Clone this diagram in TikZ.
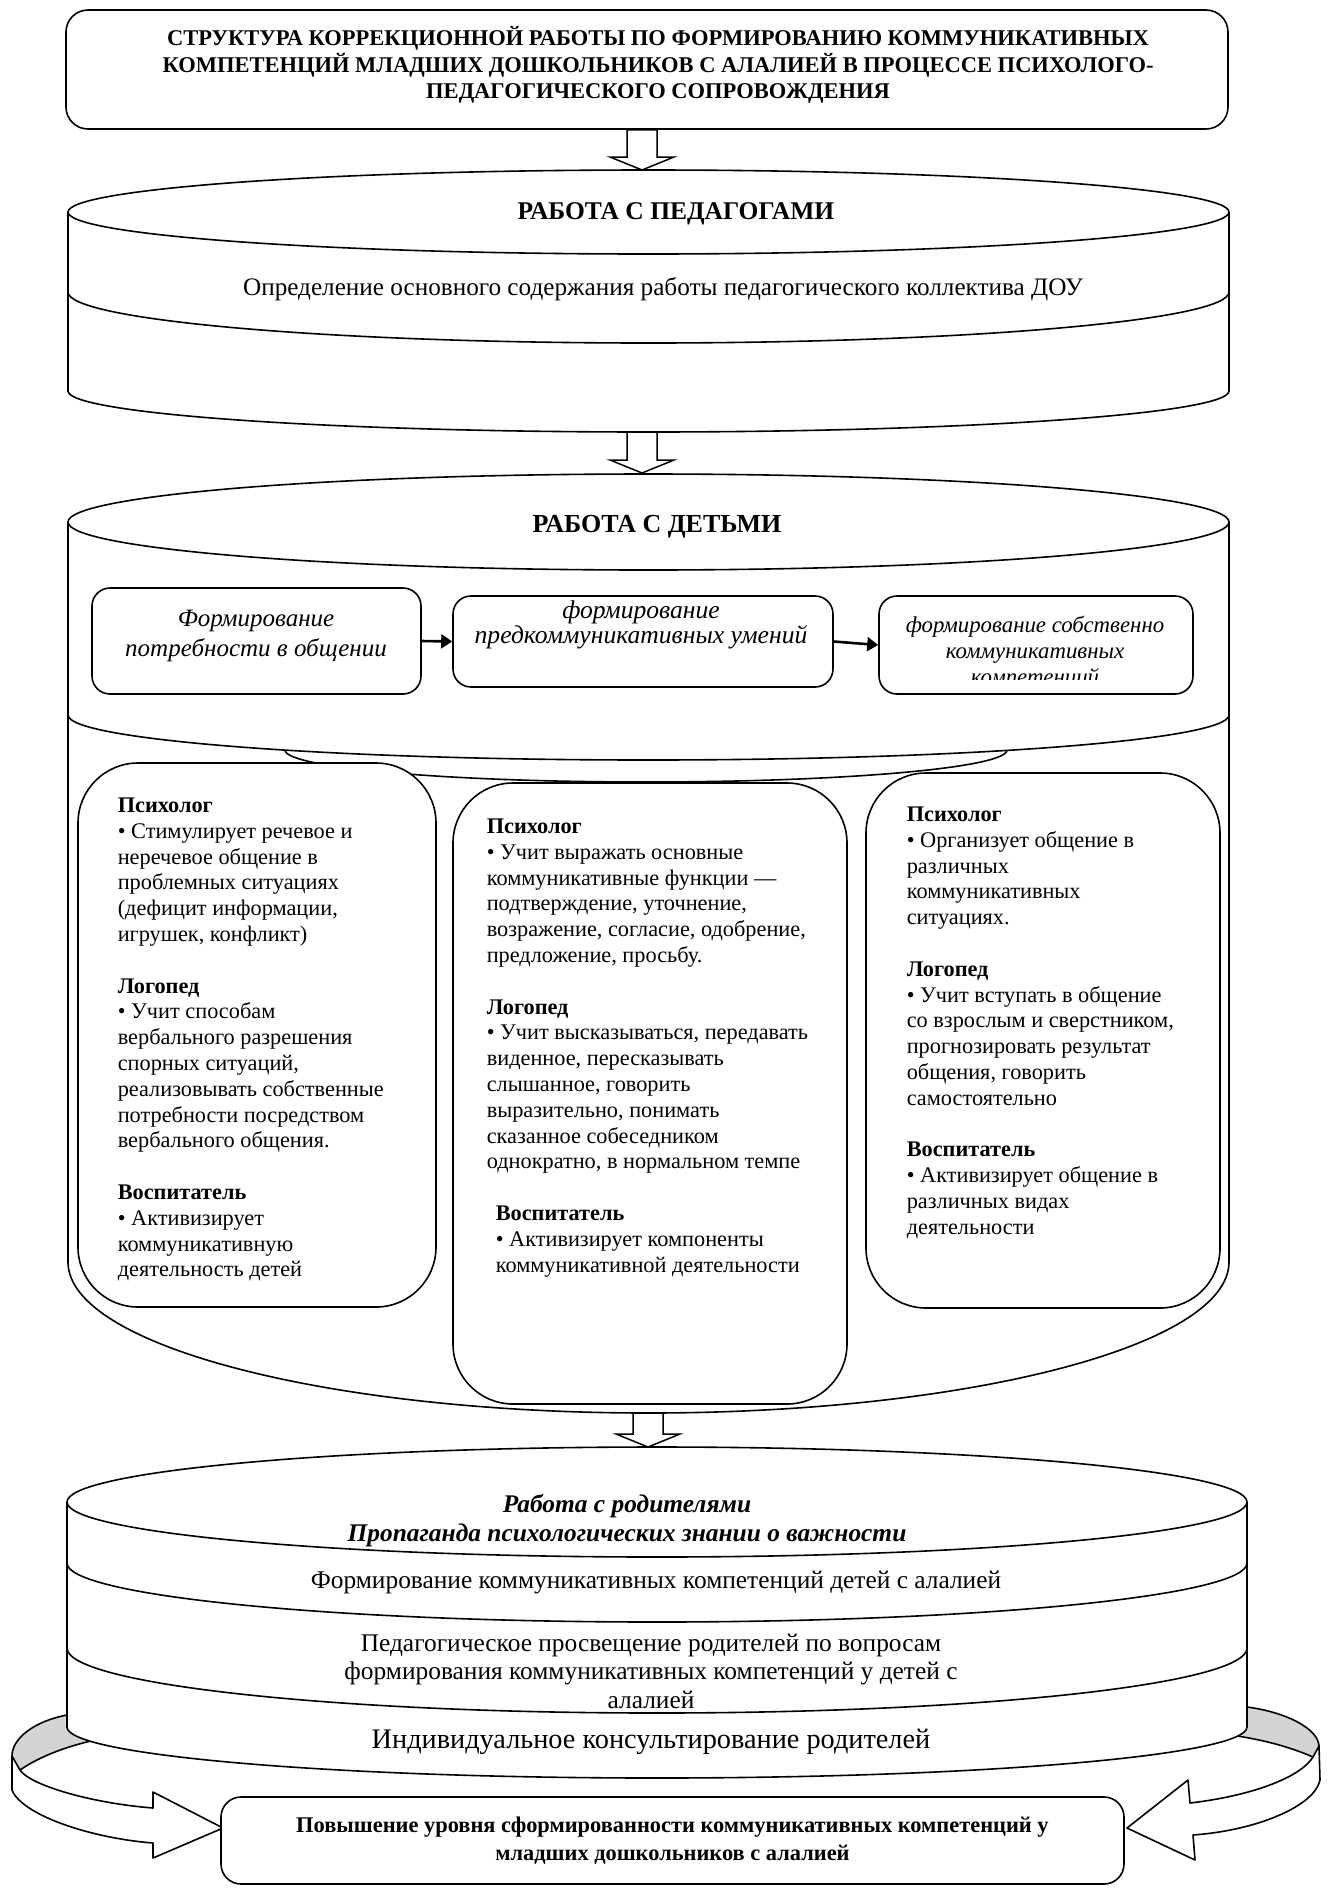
\documentclass[tikz,border=0pt]{standalone}
\usepackage{fontspec}
\setmainfont{Liberation Serif}
\usetikzlibrary{arrows.meta,calc}
\definecolor{ribgray}{HTML}{D4D4D4}
\newcommand\blockdown[2]{%
  \draw[fill=white,line width=1.5pt,line join=miter] let \p1=(#1),\p2=(#2) in
  (\x2-15pt,\y1) -- (\x2+15pt,\y1) -- (\x2+15pt,\y2+13pt) -- (\x2+32pt,\y2+13pt)
  -- (\x2,\y2) -- (\x2-32pt,\y2+13pt) -- (\x2-15pt,\y2+13pt) -- cycle;}
\begin{document}
\begin{tikzpicture}[x=1pt,y=-1pt,line width=1.6pt,line join=round,
  box/.style={draw,fill=white,inner sep=0pt},
  body/.style={font=\fontsize{22.3}{25.8}\selectfont,align=left,inner sep=0pt,anchor=north west},
  lbl/.style={align=center,inner sep=0pt},
  flow/.style={-{Triangle[length=11pt,width=14pt]},line width=2.6pt}]
\fill[white] (0,0) rectangle (1329,1888);
\useasboundingbox (0,0) rectangle (1329,1888);

% ---------- title
\node[box,rounded corners=22pt,minimum width=1162pt,minimum height=119pt] (titlebox) at (647,69.5) {};
\node[lbl,font=\fontsize{22.5}{26.5}\selectfont\bfseries] (titletxt) at (658,65)
 {СТРУКТУРА КОРРЕКЦИОННОЙ РАБОТЫ ПО ФОРМИРОВАНИЮ КОММУНИКАТИВНЫХ\\
  КОМПЕТЕНЦИЙ МЛАДШИХ ДОШКОЛЬНИКОВ С АЛАЛИЕЙ В ПРОЦЕССЕ ПСИХОЛОГО-\\
  ПЕДАГОГИЧЕСКОГО СОПРОВОЖДЕНИЯ};

% ---------- cylinder 1
\fill[white] (68,212) -- (68,391) arc[start angle=180,end angle=0,x radius=580.5,y radius=41] -- (1229,212) -- cycle;
\draw (68,212) -- (68,391) arc[start angle=180,end angle=0,x radius=580.5,y radius=41] -- (1229,212);
\draw (68,292) arc[start angle=180,end angle=0,x radius=580.5,y radius=51];
\draw[fill=white] (648.5,212) ellipse[x radius=580.5,y radius=42];
\node[lbl,font=\fontsize{25.5}{30}\selectfont\bfseries] (c1title) at (676,214) {РАБОТА С ПЕДАГОГАМИ};
\node[lbl,font=\fontsize{25.2}{30}\selectfont] (c1text) at (663,289) {Определение основного содержания работы педагогического коллектива ДОУ};

% ---------- cylinder 2
\fill[white] (68,522) -- (68,1262) arc[start angle=180,end angle=0,x radius=580.5,y radius=151] -- (1229,522) -- cycle;
\draw (68,522) -- (68,1262) arc[start angle=180,end angle=0,x radius=580.5,y radius=151] -- (1229,522);
\draw (68,715) arc[start angle=180,end angle=0,x radius=580.5,y radius=45];
\draw (285,750) arc[start angle=180,end angle=0,x radius=361,y radius=32];
\draw[fill=white] (648.5,522) ellipse[x radius=580.5,y radius=48];
\node[lbl,font=\fontsize{26}{30}\selectfont\bfseries] (c2title) at (657,527) {РАБОТА С ДЕТЬМИ};

\node[box,rounded corners=18pt,minimum width=329pt,minimum height=106pt] (k1) at (256.5,641) {};
\node[lbl,font=\fontsize{25}{30}\selectfont\itshape] (k1t) at (256,636) {Формирование\\потребности в общении};
\node[box,rounded corners=18pt,minimum width=380pt,minimum height=91pt] (k2) at (643,641.5) {};
\node[lbl,font=\fontsize{25.6}{18}\selectfont\itshape] (k2t) at (641,625) {формирование\\предкоммуникативных умений};
\node[box,rounded corners=18pt,minimum width=314pt,minimum height=98pt] (k3) at (1036,645) {};
\begin{scope}
\clip (880,597) rectangle (1192,679);
\node[lbl,font=\fontsize{22.8}{26}\selectfont\itshape] (k3t) at (1035,653) {формирование собственно\\коммуникативных\\компетенций};
\end{scope}
\draw[flow] (k1.east) -- (k2.west);
\draw[flow] (k2.east) -- (k3.west);

% ---------- specialist boxes
\node[box,rounded corners=60pt,minimum width=358pt,minimum height=544pt] (bL) at (257,1035) {};
\node[box,rounded corners=60pt,minimum width=394pt,minimum height=621pt] (bM) at (650,1093.5) {};
\node[box,rounded corners=60pt,minimum width=354pt,minimum height=535pt] (bR) at (1043,1040.5) {};

\node[body] (bLt) at (117,797) {\textbf{Психолог}\\
• Стимулирует речевое и\\
неречевое общение в\\
проблемных ситуациях\\
(дефицит информации,\\
игрушек, конфликт)\\[25.8pt]
\textbf{Логопед}\\
• Учит способам\\
вербального разрешения\\
спорных ситуаций,\\
реализовывать собственные\\
потребности посредством\\
вербального общения.\\[25.8pt]
\textbf{Воспитатель}\\
• Активизирует\\
коммуникативную\\
деятельность детей};

\node[body] (bMt) at (486,818) {\textbf{Психолог}\\
• Учит выражать основные\\
коммуникативные функции —\\
подтверждение, уточнение,\\
возражение, согласие, одобрение,\\
предложение, просьбу.\\[25.8pt]
\textbf{Логопед}\\
• Учит высказываться, передавать\\
виденное, пересказывать\\
слышанное, говорить\\
выразительно, понимать\\
сказанное собеседником\\
однократно, в нормальном темпе\\[25.8pt]
\hspace*{9pt}\textbf{Воспитатель}\\
\hspace*{9pt}• Активизирует компоненты\\
\hspace*{9pt}коммуникативной деятельности};

\node[body] (bRt) at (906,806) {\textbf{Психолог}\\
• Организует общение в\\
различных\\
коммуникативных\\
ситуациях.\\[25.8pt]
\textbf{Логопед}\\
• Учит вступать в общение\\
со взрослым и сверстником,\\
прогнозировать результат\\
общения, говорить\\
самостоятельно\\[25.8pt]
\textbf{Воспитатель}\\
• Активизирует общение в\\
различных видах\\
деятельности};

% ---------- ribbons (behind cylinder 3)
\fill[ribgray] (110,1709) .. controls (90,1711) and (78,1713) .. (67,1715) .. controls (35,1721) and (12,1738) .. (12,1756) -- (20,1770) .. controls (40,1756) and (70,1745) .. (100,1739) -- cycle;
\draw (110,1709) .. controls (90,1711) and (78,1713) .. (67,1715) .. controls (35,1721) and (12,1738) .. (12,1756);
\draw (20,1770) .. controls (40,1756) and (70,1745) .. (100,1739);
\draw[fill=white] (12,1756) -- (12,1790) .. controls (22,1815) and (90,1838) .. (153,1843) -- (153,1858) -- (223,1828) -- (153,1792) -- (153,1808) .. controls (90,1803) and (30,1785) .. (20,1770) -- cycle;

\fill[ribgray] (1200,1703) .. controls (1220,1704) and (1235,1705) .. (1247,1707) .. controls (1285,1712) and (1318,1728) .. (1319,1746) -- (1313,1757) .. controls (1290,1747) and (1260,1738) .. (1215,1733) -- cycle;
\draw (1200,1703) .. controls (1220,1704) and (1235,1705) .. (1247,1707) .. controls (1285,1712) and (1318,1728) .. (1319,1746);
\draw (1313,1757) .. controls (1290,1747) and (1260,1738) .. (1215,1733);
\draw[fill=white] (1319,1746) -- (1320,1780) .. controls (1315,1805) and (1260,1830) .. (1193,1835) -- (1195,1860) -- (1127,1828) -- (1188,1780) -- (1190,1803) .. controls (1250,1796) and (1300,1778) .. (1313,1757) -- cycle;

% ---------- cylinder 3
\fill[white] (67,1502) -- (67,1727) arc[start angle=180,end angle=0,x radius=590,y radius=51] -- (1247,1502) -- cycle;
\draw (67,1502) -- (67,1727) arc[start angle=180,end angle=0,x radius=590,y radius=51] -- (1247,1502);
\draw (67,1563) arc[start angle=180,end angle=0,x radius=590,y radius=59];
\draw (67,1648) arc[start angle=180,end angle=0,x radius=590,y radius=65];
\draw[fill=white] (657,1502) ellipse[x radius=590,y radius=55];
\node[lbl,font=\fontsize{25.4}{29}\selectfont\bfseries\itshape] (c3title) at (627,1521) {Работа с родителями\\Пропаганда психологических знании о важности};
\node[lbl,font=\fontsize{25.4}{30}\selectfont] (c3a) at (656,1583) {Формирование коммуникативных компетенций детей с алалией};
\node[lbl,font=\fontsize{25.4}{28.5}\selectfont] (c3b) at (651,1671) {Педагогическое просвещение родителей по вопросам\\формирования коммуникативных компетенций у детей с\\алалией};
\node[lbl,font=\fontsize{28.3}{32}\selectfont] (c3c) at (651,1742) {Индивидуальное консультирование родителей};

% ---------- goal box
\node[box,rounded corners=20pt,minimum width=903pt,minimum height=87pt,align=center,
  font=\fontsize{22.4}{28}\selectfont\bfseries] (goal) at (672.5,1840.5)
  {Повышение уровня сформированности коммуникативных компетенций у\\младших дошкольников с алалией};

% ---------- block arrows
\coordinate (c1top) at (642,170);
\coordinate (c1bot) at (642,432);
\coordinate (c2top) at (642,473);
\coordinate (c2bot) at (648,1413);
\coordinate (c3top) at (648,1447);
\blockdown{titlebox.south -| c1top}{c1top}
\blockdown{c1bot}{c2top}
\blockdown{c2bot}{c3top}
\end{tikzpicture}
\end{document}
